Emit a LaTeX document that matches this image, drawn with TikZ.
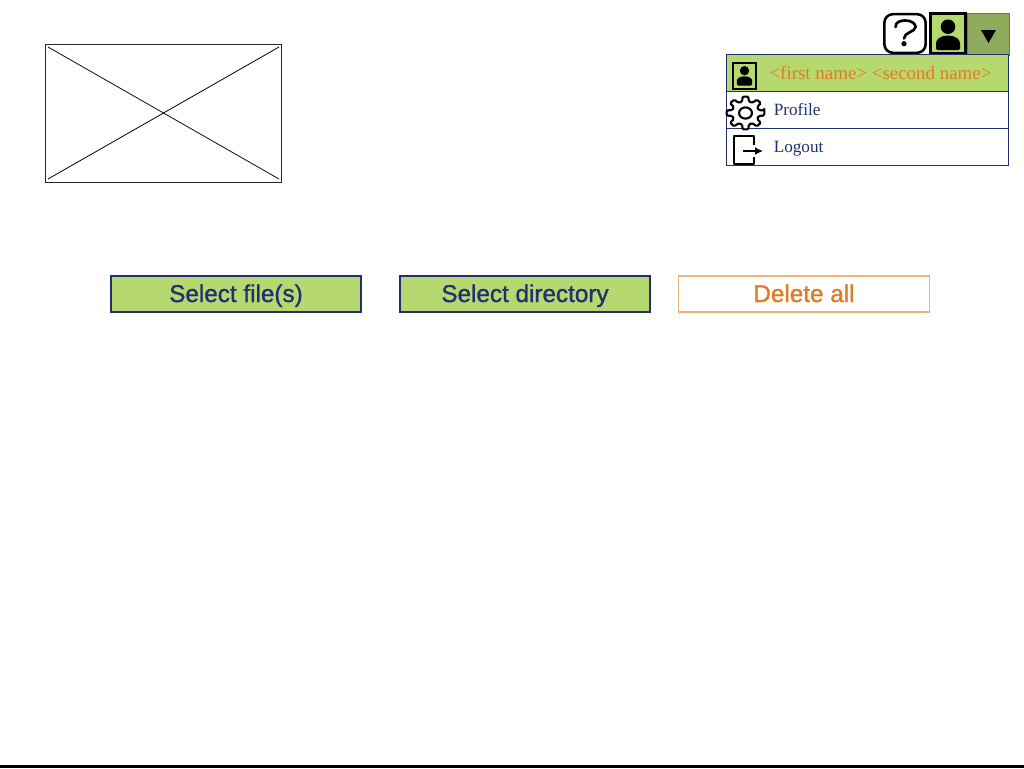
\documentclass[tikz,border=0pt]{standalone}
\usepackage{fontspec}
\usepackage{xcolor}
\usepackage{tikz}
\usetikzlibrary{arrows.meta,positioning}
\setmainfont{Liberation Serif}
\newfontfamily\btnfont{Liberation Sans}[FakeBold=1.2]
\definecolor{LeafGreen}{HTML}{B5D96F}
\definecolor{DarkLeaf}{HTML}{8FAB5C}
\definecolor{InkNavy}{HTML}{23306F}
\definecolor{Carrot}{HTML}{E07B24}
\definecolor{PaleCarrot}{HTML}{F2B47C}

\begin{document}
\begin{tikzpicture}[
    x=0.75pt, y=-0.75pt,
    btn/.style={draw=InkNavy, line width=1.5pt, fill=LeafGreen, text=InkNavy, font=\btnfont\fontsize{18.2}{20}\selectfont, minimum width=188pt, minimum height=27pt, inner sep=0pt, text height=15pt, text depth=3pt},
    btnoff/.style={btn, draw=PaleCarrot, line width=0.9pt, fill=white, text=Carrot},
    row/.style={draw=InkNavy, line width=0.7pt, fill=white, minimum width=211.5pt, minimum height=27.75pt, inner sep=0pt},
    rowtext/.style={text=InkNavy, font=\fontsize{12.9}{16}\selectfont, inner sep=0pt, anchor=base west},
    iconline/.style={draw=black, line width=1.9pt, line join=round},
    personglyph/.pic={
        \fill (0,0) circle (7.3);
        \fill[rounded corners=1.2pt] (-12,23.5) -- (-12,18) .. controls (-12,12) and (-6,9) .. (0,9) .. controls (6,9) and (12,12) .. (12,18) -- (12,23.5) -- cycle;
    }
]
\useasboundingbox (0,0) rectangle (1024,768);
% placeholder image
\node[draw=black!85, line width=0.7pt, minimum width=177pt, minimum height=103.5pt, inner sep=0pt] (logo) at (163.5,113) {};
\coordinate (logotl) at (48,47);
\coordinate (logotr) at (279,47);
\coordinate (logobl) at (48,179);
\coordinate (logobr) at (279,179);
\draw[line width=0.6pt] (logotl) -- (logobr);
\draw[line width=0.6pt] (logotr) -- (logobl);
% top bar icons
\node[iconline, rounded corners=6.5pt, minimum width=31pt, minimum height=29pt, inner sep=0pt] (help) at (905,33.5) {};
\draw[line width=2pt, line cap=round] (895.5,27) .. controls (895.5,22) and (900,20.5) .. (905.5,20.5) .. controls (912,20.5) and (915.5,24) .. (915.5,27) .. controls (915.5,32) and (904,32) .. (904,38.5);
\fill (904,43.7) circle (2.6);
\node[draw=InkNavy!70, line width=0.7pt, fill=DarkLeaf, minimum width=32pt, minimum height=31.5pt, inner sep=0pt] (drop) at (988.5,34) {};
\fill (981,30) -- (996,30) -- (988.5,43) -- cycle;
\node[draw=black, line width=2.2pt, fill=LeafGreen, minimum width=26.25pt, minimum height=30pt, inner sep=0pt] (avatar) at (948,33.5) {};
\pic at (948,26.7) {personglyph};
% menu
\node[row, fill=LeafGreen] (rowname) at (867.75,73) {};
\node[row] (rowprofile) at (867.75,110) {};
\node[row] (rowlogout) at (867.75,147) {};
\node[draw=black, line width=1.5pt, fill=LeafGreen, minimum width=17.25pt, minimum height=19.5pt, inner sep=0pt] (avatarsmall) at (744.5,76) {};
\pic[scale=0.64] at (744.5,70.7) {personglyph};
\node[text=Carrot, font=\fontsize{14.2}{17}\selectfont, inner sep=0pt, anchor=base] (username) at (880.5,79) {<first name> <second name>};
\node[rowtext] (profile) at (773.5,115) {Profile};
\node[rowtext] (logout) at (773.5,152) {Logout};
% gear
\begin{scope}[shift={(745.5,113)}, xscale=1.15]
\draw[line width=1.6pt, line join=round, rounded corners=1pt, fill=white] (-9:16.6)
    \foreach \a in {0,45,...,315}{ -- (\a+9:16.6) -- (\a+14:11.8) -- (\a+31:11.8) -- (\a+36:16.6) } -- cycle;
\draw[line width=1.6pt] (0,0) circle (5.6);
\end{scope}
% logout door
\draw[iconline, line width=1.5pt] (754,145) -- (754,136) -- (734,136) -- (734,164) -- (754,164) -- (754,157);
\draw[line width=1.4pt, -{Latex[length=6pt,width=6pt]}] (743,151) -- (763,151);
% buttons
\node[btn] (selectfiles) at (236,294) {Select file(s)};
\node[btn] (selectdir) at (525,294) {Select directory};
\node[btnoff] (deleteall) at (804,294) {Delete all};
% bottom edge
\coordinate (edgel) at (0,766.5);
\coordinate (edger) at (1024,766.5);
\draw[line width=2.3pt] (edgel) -- (edger);
\end{tikzpicture}
\end{document}
